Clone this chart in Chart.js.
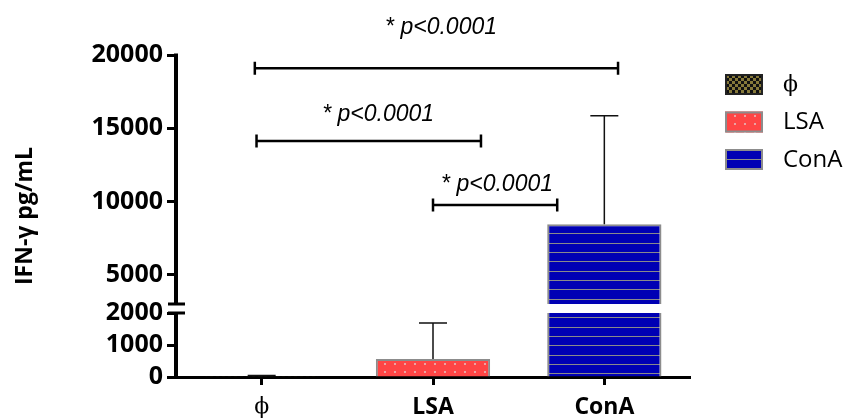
<!DOCTYPE html>
<html>
<head>
<meta charset="utf-8">
<script src="https://cdn.jsdelivr.net/npm/chart.js@4/dist/chart.umd.min.js"></script>
<style>
  html, body { margin: 0; padding: 0; background: #fff; }
  #wrap { width: 847px; height: 420px; }
</style>
</head>
<body>
<div id="wrap"><canvas id="chart" width="847" height="420"></canvas></div>
<script>
// IFN-gamma release per stimulus (mean and SD, pg/mL)
const groups = ["ϕ", "LSA", "ConA"];
const means = [5, 560, 8450];
const errors = [40, 1130, 7400];
const yTicks = [0, 1000, 2000, 5000, 10000, 15000, 20000];

// significance brackets, x in category units, y in pg/mL
const bracketFrom = [-0.04, -0.03, 1.0];
const bracketTo = [2.08, 1.28, 1.725];
const bracketLevel = [19100, 14130, 9760];
const bracketText = ["* p<0.0001", "* p<0.0001", "* p<0.0001"];
const bracketLabelX = [1.047, 0.68, 1.374];
const bracketLabelY = [21900, 15900, 11125];

// the y axis is split: 0-2000 below, 3000-20000 above
const LOW_MAX = 2000;
const HIGH_MIN = 3000;
const LOW_SHARE = 64 / 322;
const GAP_SHARE = 9 / 322;

const SANS = "'Open Sans', 'DejaVu Sans', sans-serif";
const SERIF = "'DejaVu Serif', 'Liberation Serif', serif";

class BrokenLinearScale extends Chart.LinearScale {
  static id = "brokenLinear";

  buildTicks() {
    return yTicks.map((value) => ({ value }));
  }

  panels() {
    const h = this.bottom - this.top;
    const lowTop = this.bottom - h * LOW_SHARE;
    const highBottom = lowTop - h * GAP_SHARE;
    return { lowTop, highBottom };
  }

  getPixelForValue(value) {
    const { lowTop, highBottom } = this.panels();
    if (value <= LOW_MAX) {
      return this.bottom - (value / LOW_MAX) * (this.bottom - lowTop);
    }
    if (value >= HIGH_MIN) {
      return highBottom - ((value - HIGH_MIN) / (this.max - HIGH_MIN)) * (highBottom - this.top);
    }
    return lowTop - ((value - LOW_MAX) / (HIGH_MIN - LOW_MAX)) * (lowTop - highBottom);
  }

  getValueForPixel(pixel) {
    const { lowTop, highBottom } = this.panels();
    if (pixel >= lowTop) {
      return ((this.bottom - pixel) / (this.bottom - lowTop)) * LOW_MAX;
    }
    if (pixel <= highBottom) {
      return HIGH_MIN + ((highBottom - pixel) / (highBottom - this.top)) * (this.max - HIGH_MIN);
    }
    return LOW_MAX + ((lowTop - pixel) / (lowTop - highBottom)) * (HIGH_MIN - LOW_MAX);
  }
}
Chart.register(BrokenLinearScale);

function makePattern(w, h, paint) {
  const c = document.createElement("canvas");
  c.width = w;
  c.height = h;
  paint(c.getContext("2d"));
  return c.getContext("2d").createPattern(c, "repeat");
}

const checkerFill = makePattern(6, 6, (g) => {
  g.fillStyle = "#86793a";
  g.fillRect(0, 0, 6, 6);
  g.fillStyle = "#111";
  g.fillRect(0, 0, 3, 3);
  g.fillRect(3, 3, 3, 3);
});

const dottedFill = makePattern(10, 8, (g) => {
  g.fillStyle = "#ff4545";
  g.fillRect(0, 0, 10, 8);
  g.fillStyle = "#e9a3a3";
  g.fillRect(4, 3, 2, 2);
});

const stripedFill = makePattern(4, 28, (g) => {
  g.fillStyle = "#0000b4";
  g.fillRect(0, 0, 4, 28);
  g.fillStyle = "#8a8a8a";
  g.fillRect(0, 0, 4, 1);
  g.fillRect(0, 9, 4, 1);
  g.fillRect(0, 19, 4, 1);
});

const fills = [checkerFill, dottedFill, stripedFill];
const edges = ["#222", "#8c8c8c", "#8c8c8c"];

const brokenAxis = {
  id: "brokenAxis",
  beforeDatasetsDraw(chart) {
    const { ctx, chartArea } = chart;
    const { lowTop, highBottom } = chart.scales.y.panels();
    ctx.save();
    ctx.beginPath();
    ctx.rect(0, 0, chart.width, highBottom);
    ctx.rect(0, lowTop, chart.width, chartArea.bottom + 10 - lowTop);
    ctx.clip();
  },
  afterDatasetsDraw(chart) {
    const { ctx } = chart;
    ctx.restore();
    const x = chart.scales.x;
    const y = chart.scales.y;

    // error bars, upper side only
    ctx.save();
    ctx.strokeStyle = "#111";
    ctx.lineWidth = 1.5;
    means.forEach((m, i) => {
      const cx = x.getPixelForValue(i);
      const y0 = y.getPixelForValue(m);
      const y1 = y.getPixelForValue(m + errors[i]);
      ctx.beginPath();
      ctx.moveTo(cx, y0);
      ctx.lineTo(cx, y1);
      ctx.moveTo(cx - 14, y1);
      ctx.lineTo(cx + 14, y1);
      ctx.stroke();
    });
    ctx.restore();

    // significance brackets
    ctx.save();
    ctx.strokeStyle = "#000";
    ctx.lineWidth = 2.5;
    ctx.fillStyle = "#000";
    ctx.font = "italic 23px 'Liberation Sans', Arial, sans-serif";
    ctx.textAlign = "center";
    ctx.textBaseline = "middle";
    bracketLevel.forEach((lvl, i) => {
      const x0 = x.getPixelForValue(bracketFrom[i]);
      const x1 = x.getPixelForValue(bracketTo[i]);
      const py = y.getPixelForValue(lvl);
      ctx.beginPath();
      ctx.moveTo(x0, py);
      ctx.lineTo(x1, py);
      ctx.moveTo(x0, py - 6.5);
      ctx.lineTo(x0, py + 6.5);
      ctx.moveTo(x1, py - 6.5);
      ctx.lineTo(x1, py + 6.5);
      ctx.stroke();
      ctx.fillText(bracketText[i], x.getPixelForValue(bracketLabelX[i]), y.getPixelForValue(bracketLabelY[i]));
    });
    ctx.restore();
  },
  afterDraw(chart) {
    const { ctx, chartArea } = chart;
    const y = chart.scales.y;
    const { lowTop, highBottom } = y.panels();
    const ax = chartArea.left;

    // y axis line in two pieces with break marks
    ctx.save();
    ctx.strokeStyle = "#000";
    ctx.lineWidth = 4;
    ctx.beginPath();
    ctx.moveTo(ax, chartArea.top - 1.5);
    ctx.lineTo(ax, highBottom);
    ctx.moveTo(ax, lowTop);
    ctx.lineTo(ax, chartArea.bottom + 1.5);
    ctx.stroke();
    ctx.lineWidth = 3;
    ctx.beginPath();
    ctx.moveTo(ax - 8, highBottom);
    ctx.lineTo(ax + 9, highBottom);
    ctx.moveTo(ax - 8, lowTop);
    ctx.lineTo(ax + 9, lowTop);
    ctx.stroke();
    ctx.restore();

    // legend
    ctx.save();
    ctx.textBaseline = "middle";
    groups.forEach((name, i) => {
      const top = 74 + i * 37.5;
      ctx.fillStyle = fills[i];
      ctx.fillRect(725, top, 38, 21);
      ctx.strokeStyle = edges[i];
      ctx.lineWidth = 2;
      ctx.strokeRect(726, top + 1, 36, 19);
      ctx.fillStyle = "#000";
      ctx.font = i === 0 ? "22px " + SERIF : "24px " + SANS;
      ctx.fillText(name, 783, top + 11);
    });
    ctx.restore();
  },
};

new Chart(document.getElementById("chart"), {
  type: "bar",
  data: {
    labels: groups,
    datasets: [
      {
        data: means,
        backgroundColor: fills,
        borderColor: edges,
        borderWidth: 2,
        barPercentage: 0.667,
        categoryPercentage: 1,
      },
    ],
  },
  options: {
    responsive: false,
    animation: false,
    devicePixelRatio: 1,
    layout: { padding: { top: 55, right: 157, left: 0, bottom: 0 } },
    plugins: {
      legend: { display: false },
      tooltip: { enabled: false },
    },
    scales: {
      x: {
        grid: {
          offset: false,
          drawOnChartArea: false,
          tickLength: 8,
          tickWidth: 3,
          tickColor: "#000",
        },
        border: { color: "#000", width: 3 },
        ticks: {
          color: "#000",
          padding: 9,
          font: (ctx) =>
            ctx.index === 0
              ? { family: SERIF, size: 22, weight: "normal" }
              : { family: SANS, size: 23, weight: "bold" },
        },
        afterFit(scale) {
          scale.height = 43;
        },
      },
      y: {
        type: "brokenLinear",
        min: 0,
        max: 20000,
        border: { display: false },
        grid: {
          drawOnChartArea: false,
          tickLength: 9,
          tickWidth: 3,
          tickColor: "#000",
        },
        ticks: {
          color: "#000",
          autoSkip: false,
          padding: 4,
          font: { family: SANS, size: 25, weight: "bold" },
          callback: (v) => String(v),
        },
        title: {
          display: true,
          text: "IFN-γ pg/mL",
          color: "#000",
          padding: { top: 12, bottom: 0 },
          font: { family: SANS, size: 23, weight: "bold" },
        },
        afterFit(scale) {
          scale.width = 176;
        },
      },
    },
  },
  plugins: [brokenAxis],
});
</script>
</body>
</html>
